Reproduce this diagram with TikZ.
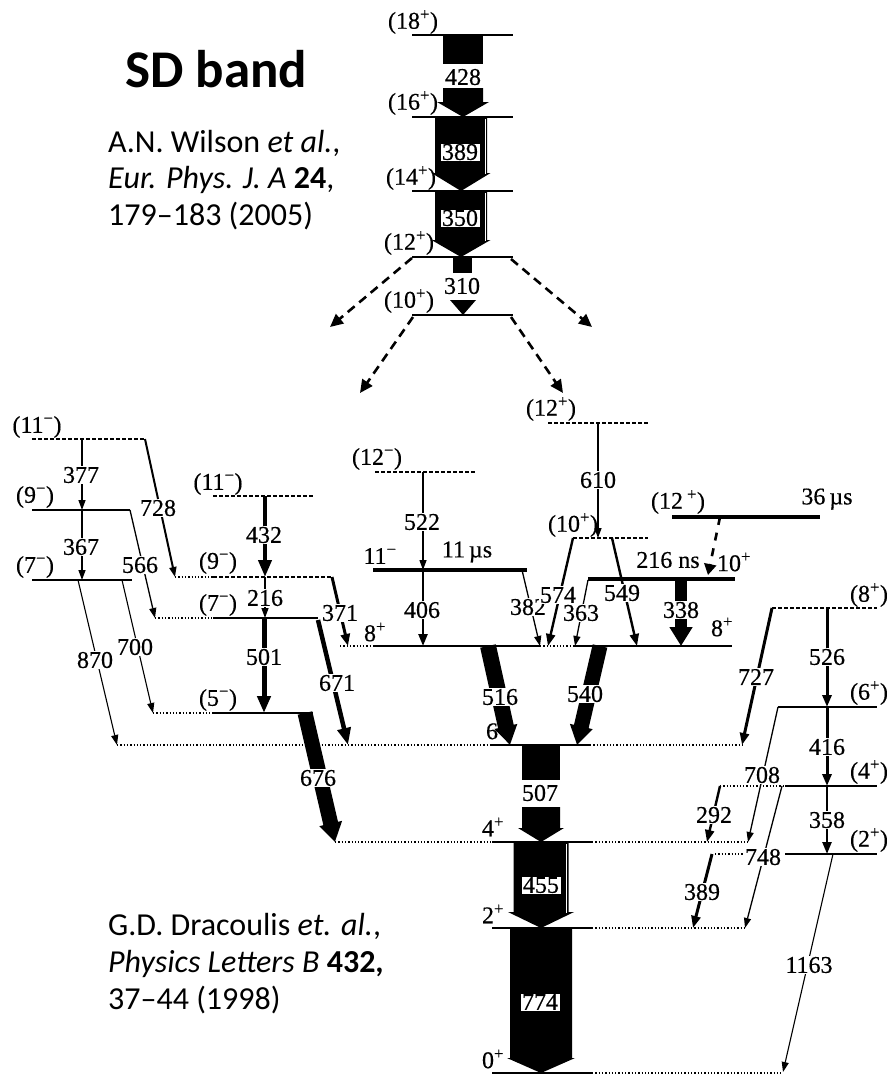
\documentclass[tikz,border=0pt]{standalone}
\usepackage{fontspec}
\setmainfont[FakeBold=0.4]{Liberation Serif}
\newfontfamily\calib{Carlito}
\usetikzlibrary{arrows.meta}

% vertical block arrow: x, ytop, yhead, ytip, halfwidth, head halfwidth
\newcommand\bigarr[6]{\fill ({#1-#5},#2) -- ({#1+#5},#2) -- ({#1+#5},#3) -- ({#1+#6},#3) -- (#1,#4) -- ({#1-#6},#3) -- ({#1-#5},#3) -- cycle;}
% transition: name, start, end, style, label, label position
\newcommand\tran[6]{\coordinate (#1s) at (#2); \coordinate (#1e) at (#3); \draw[#4] (#1s) -- (#1e); \node[glab] (#1l) at (#6) {#5};}

\tikzset{
 lvl/.style={line width=1.6pt},
 lvdash/.style={line width=1.6pt, dash pattern=on 4pt off 2pt},
 lvdot/.style={line width=1.3pt, dash pattern=on 1.3pt off 2pt},
 iso/.style={line width=4.5pt},
 lab/.style={font=\fontsize{24}{27}\selectfont, inner sep=0.5pt},
 glab/.style={lab, fill=white, inner sep=0.8pt},
 boxlab/.style={lab, draw, line width=0.8pt, fill=white, inner xsep=2pt, inner ysep=1pt},
 tA/.style={line width=1.3pt, -{Triangle[length=10pt,width=7pt]}},
 tB/.style={line width=2.4pt, -{Triangle[length=12pt,width=9pt]}},
 tC/.style={line width=4pt, -{Triangle[length=17pt,width=13pt]}},
 tF/.style={line width=#1, -{Triangle[length=19pt,width=22pt]}},
 sddash/.style={line width=2.6pt, dash pattern=on 9pt off 6pt, -{Triangle[length=13pt,width=12pt]}},
 isodash/.style={line width=2.6pt, dash pattern=on 8pt off 8pt, -{Triangle[length=11pt,width=12pt]}},
 cite/.style={font=\calib\fontsize{32}{36}\selectfont, anchor=base west, inner sep=0pt},
}

\begin{document}
\begin{tikzpicture}[x=1pt,y=-1pt]
\useasboundingbox (0,0) rectangle (891,1076);

% ---------------- texts
\node[font=\calib\bfseries\fontsize{53}{60}\selectfont, anchor=base west, inner sep=0pt] (sdt) at (125,87) {SD band};
\node[cite] (w1) at (108,152) {A.N. Wilson \textit{et al.},};
\node[cite] (w2) at (108,188.5) {\textit{Eur. Phys. J. A} \textbf{24},};
\node[cite] (w3) at (108,225) {179–183 (2005)};
\node[cite] (d1) at (108,935) {G.D. Dracoulis \textit{et. al.},};
\node[cite] (d2) at (108,972) {\textit{Physics Letters B} \textbf{432,}};
\node[cite] (d3) at (108,1009) {37–44 (1998)};

% ---------------- SD band levels
\foreach \y in {35,117,191,257,315} \draw[lvl] (412,\y) -- (513,\y);
\node[lab] (l18) at (413,22) {(18\textsuperscript{+})};
\node[lab] (l16) at (413,103) {(16\textsuperscript{+})};
\node[lab] (l14) at (411,178) {(14\textsuperscript{+})};
\node[lab] (l12) at (409,243) {(12\textsuperscript{+})};
\node[lab] (l10) at (409,301) {(10\textsuperscript{+})};

% SD band transitions
\fill (443,35) rectangle (483,64);
\node[lab] (s428) at (463,77) {428};
\bigarr{463}{88}{102}{117}{20}{26}
\bigarr{461}{117}{173}{191}{26}{29.5}
\draw[white, line width=0.8pt] (485,119) -- (485,174);
\node[boxlab] (s389) at (460,152) {389};
\bigarr{461}{191}{240}{257}{26}{29.5}
\draw[white, line width=0.8pt] (485,193) -- (485,241);
\node[boxlab] (s350) at (460,218) {350};
\fill (453,257) rectangle (472,273);
\node[lab] (s310) at (462,286) {310};
\fill (450,300) -- (476,300) -- (463,315) -- cycle;

% decay-out dashed arrows
\coordinate (o12l) at (412,258); \coordinate (o12r) at (511,259);
\coordinate (o10l) at (413,317); \coordinate (o10r) at (511,317);
\coordinate (e1) at (330,327); \coordinate (e2) at (592,327);
\coordinate (e3) at (360,393); \coordinate (e4) at (563,393);
\draw[sddash] (o12l) -- (e1);
\draw[sddash] (o12r) -- (e2);
\draw[sddash] (o10l) -- (e3);
\draw[sddash] (o10r) -- (e4);

% ---------------- level scheme levels
% left band
\draw[lvdash] (32,439) -- (145,439);
\draw[lvl] (32,510) -- (130,510);
\draw[lvl] (32,580) -- (132,580);
% middle-left band
\draw[lvdash] (213,496) -- (313,496);
\draw[lvdot] (175,577) -- (213,577); \draw[lvdash] (213,577) -- (332,577);
\draw[lvdot] (155,618) -- (213,618); \draw[lvl] (213,618) -- (318,618);
\draw[lvdot] (153,713) -- (213,713); \draw[lvl] (213,713) -- (313,713);
% ground band
\draw[lvdot] (340,646) -- (373,646); \draw[lvl] (373,646) -- (540,646);
\draw[lvdot] (540,646) -- (573,646); \draw[lvl] (573,646) -- (732,646);
\draw[lvdot] (117,745) -- (490,745); \draw[lvl] (490,745) -- (590,745); \draw[lvdot] (590,745) -- (742,745);
\draw[lvdot] (335,842) -- (492,842); \draw[lvl] (492,842) -- (592,842); \draw[lvdot] (592,842) -- (748,842);
\draw[lvl] (492,928) -- (592,928); \draw[lvdot] (592,928) -- (745,928);
\draw[lvl] (492,1073) -- (592,1073); \draw[lvdot] (592,1073) -- (783,1073);
% other levels
\draw[lvdash] (375,472) -- (475,472);
\draw[iso] (373,570) -- (527,570);
\draw[lvdash] (548,423) -- (648,423);
\draw[lvdash] (573,538) -- (648,538);
\draw[iso] (672,517) -- (820,517);
\draw[iso] (588,579) -- (735,579);
% right band
\draw[lvdash] (772,608) -- (877,608);
\draw[lvl] (778,707) -- (877,707);
\draw[lvdot] (720,786) -- (785,786); \draw[lvl] (785,786) -- (877,786);
\draw[lvdot] (715,854) -- (745,854); \draw[lvl] (785,854) -- (877,854);

% level labels
\node[lab] (n11a) at (37,427) {(11\textsuperscript{−})};
\node[lab] (n9a) at (35,497) {(9\textsuperscript{−})};
\node[lab] (n7a) at (35,567) {(7\textsuperscript{−})};
\node[lab] (n11b) at (218,484) {(11\textsuperscript{−})};
\node[lab] (n9b) at (218,563) {(9\textsuperscript{−})};
\node[lab] (n7b) at (218,605) {(7\textsuperscript{−})};
\node[lab] (n5b) at (218,700) {(5\textsuperscript{−})};
\node[lab] (n12m) at (377,459) {(12\textsuperscript{−})};
\node[lab] (n11i) at (380,556) {11\textsuperscript{−}};
\node[lab] (n11t) at (467,552) {11\,µs};
\node[lab] (n8l) at (375,632) {8\textsuperscript{+}};
\node[lab] (n12p) at (551,409) {(12\textsuperscript{+})};
\node[lab] (n10p) at (573,525) {(10\textsuperscript{+})};
\node[lab] (n12i) at (678,502) {(12\,\textsuperscript{+})};
\node[lab] (n36) at (827,499) {36\,µs};
\node[lab] (n216) at (668,560) {216 ns};
\node[lab] (n10i) at (734,562) {10\textsuperscript{+}};
\node[lab] (n8r) at (722,627) {8\textsuperscript{+}};
\node[lab] (r8) at (869,595) {(8\textsuperscript{+})};
\node[lab] (r6) at (869,693) {(6\textsuperscript{+})};
\node[lab] (r4) at (869,772) {(4\textsuperscript{+})};
\node[lab] (r2) at (869,840) {(2\textsuperscript{+})};
\node[lab] (g6) at (497,730) {6\textsuperscript{+}};
\node[lab] (g4) at (493,827) {4\textsuperscript{+}};
\node[lab] (g2) at (493,914) {2\textsuperscript{+}};
\node[lab] (g0) at (493,1059) {0\textsuperscript{+}};

% ---------------- transitions
\tran{a377}{82,439}{82,510}{tA}{377}{81,475}
\tran{a367}{82,510}{82,580}{tA}{367}{81,547}
\tran{a728}{145,439}{175,577}{tA,line width=2pt}{728}{158,508}
\tran{a566}{130,510}{155,618}{tA}{566}{140,565}
\tran{a870}{78,580}{117,745}{tA,line width=1.1pt}{870}{95,660}
\tran{a700}{122,580}{153,713}{tA,line width=1.1pt}{700}{135,647}
\tran{a432}{265,496}{265,577}{tC}{432}{264,535}
\tran{a216}{265,577}{265,618}{tA}{216}{265,598}
\tran{a371}{332,577}{348,646}{tB,line width=3pt}{371}{340,613}
\tran{a501}{264,618}{264,713}{tC,line width=5pt}{501}{264,657}
\tran{a671}{318,620}{348,745}{tC,line width=4.5pt}{671}{337,683}
\tran{a676}{305,713}{335,842}{tF=15pt}{676}{318,778}
\tran{a522}{423,472}{423,570}{tA}{522}{422,522}
\tran{a406}{423,570}{423,646}{tB}{406}{422,610}
\tran{a382}{522,570}{540,646}{tA}{382}{528,607}
\tran{a516}{488,646}{510,745}{tF=16pt}{516}{500,697}
\tran{a610}{598,423}{598,538}{tA}{610}{598,480}
\tran{a574}{573,538}{548,646}{tB}{574}{558,595}
\tran{a549}{612,538}{637,646}{tB}{549}{622,593}
\tran{a363}{588,580}{575,646}{tA}{363}{581,613}
\tran{a338}{681,579}{681,646}{tF=12pt}{338}{681,610}
\tran{a540}{600,646}{577,745}{tF=15pt}{540}{585,694}
\tran{a727}{772,608}{742,745}{tB,line width=3pt}{727}{756,677}
\tran{a526}{827,608}{827,707}{tB,line width=3pt}{526}{827,657}
\tran{a416}{827,707}{827,786}{tB,line width=3pt}{416}{827,747}
\tran{a358}{827,786}{827,854}{tB}{358}{827,820}
\tran{a708}{778,707}{748,842}{tA}{708}{762,775}
\tran{a292}{720,786}{707,842}{tB}{292}{714,815}
\tran{a748}{782,786}{745,928}{tA}{748}{763,857}
\tran{a389}{712,854}{693,928}{tB,line width=3pt}{389}{702,892}
\tran{a1163}{833,854}{783,1072}{tA,line width=1.1pt}{1163}{809,965}
% isomer decay (dashed)
\coordinate (i36) at (720,517); \coordinate (i10) at (708,575);
\draw[isodash] (i36) -- (i10);

% ground band block arrows
\fill (522,745) rectangle (560,780);
\node[lab] (s507) at (540,793) {507};
\bigarr{541}{807}{828}{842}{19}{23}
\bigarr{541}{842}{912}{928}{27.5}{33}
\draw[white, line width=0.8pt] (566,844) -- (566,913);
\node[boxlab] (s455) at (541,885) {455};
\bigarr{541}{928}{1058}{1073}{31}{34}
\node[boxlab] (s774) at (540,1002) {774};
\end{tikzpicture}
\end{document}
